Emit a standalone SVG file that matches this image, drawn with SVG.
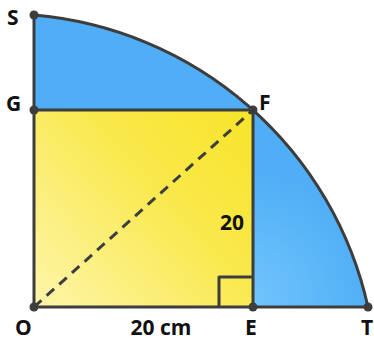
<svg xmlns="http://www.w3.org/2000/svg" width="374" height="339" viewBox="0 0 374 339">
<defs>
<radialGradient id="blue" gradientUnits="userSpaceOnUse" cx="245" cy="300" r="130">
<stop offset="0" stop-color="#72c5fb"/>
<stop offset="1" stop-color="#4faef6"/>
</radialGradient>
<linearGradient id="yellow" gradientUnits="userSpaceOnUse" x1="40" y1="305" x2="250" y2="110">
<stop offset="0" stop-color="#fdf5a8"/>
<stop offset="0.6" stop-color="#f9e84a"/>
<stop offset="1" stop-color="#f7e42a"/>
</linearGradient>
<style>
.ln{fill:none;stroke:#3d3d3d;stroke-width:3;stroke-linejoin:round}
.dot{fill:#3d3d3d}
.lb{font-family:"Open Sans","Noto Sans",sans-serif;font-weight:bold;font-size:21px;fill:#111}
</style>
</defs>
<g id="sector">
<path d="M34,15 A375,375 0 0 1 368,307 L34,307 Z" fill="url(#blue)"/>
</g>
<g id="square">
<rect x="34" y="110" width="219" height="197" fill="url(#yellow)"/>
</g>
<g id="connectors">
<path class="ln" d="M34,307 L34,15 A375,375 0 0 1 368,307 Z"/>
<path class="ln" d="M34,110 L253,110 L253,307"/>
<path class="ln" d="M219,307 L219,277 L253,277"/>
<line x1="34" y1="307" x2="253" y2="110" stroke="#3d3d3d" stroke-width="3" stroke-dasharray="10,7"/>
</g>
<g id="points">
<circle class="dot" cx="34" cy="15" r="4.5"/>
<circle class="dot" cx="34" cy="110" r="4.5"/>
<circle class="dot" cx="253" cy="110" r="4.5"/>
<circle class="dot" cx="34" cy="307" r="4.5"/>
<circle class="dot" cx="253" cy="307" r="4.5"/>
<circle class="dot" cx="368" cy="307" r="4.5"/>
</g>
<g id="labels">
<text class="lb" x="7" y="25">S</text>
<text class="lb" x="6" y="111">G</text>
<text class="lb" x="259" y="110">F</text>
<text class="lb" x="15" y="335">O</text>
<text class="lb" x="245" y="335">E</text>
<text class="lb" x="361" y="335">T</text>
<text class="lb" x="161" y="335" text-anchor="middle">20 cm</text>
<text class="lb" x="232" y="230" text-anchor="middle">20</text>
</g>
</svg>
